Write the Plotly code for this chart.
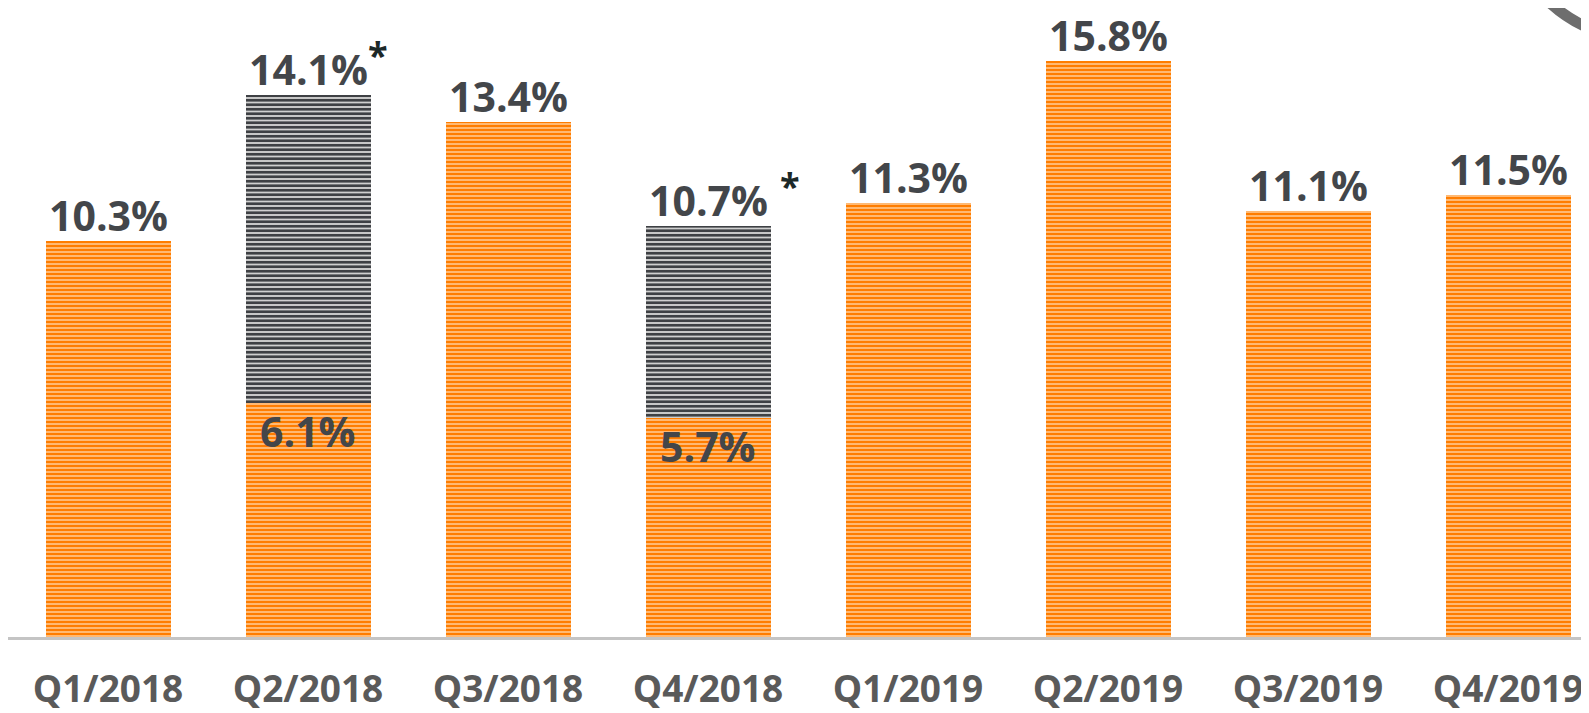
import plotly.graph_objects as go

categories = ["Q1/2018", "Q2/2018", "Q3/2018", "Q4/2018", "Q1/2019", "Q2/2019", "Q3/2019", "Q4/2019"]
# orange segment heights (as drawn)
orange_vals = [10.3, 6.1, 13.4, 5.7, 11.3, 15.0, 11.1, 11.5]
# gray segment heights stacked on top (Q2/2018 and Q4/2018 only)
gray_vals = [0, 8.0, 0, 5.0, 0, 0, 0, 0]
top_labels = ["10.3%", "14.1%", "13.4%", "10.7%", "11.3%", "15.8%", "11.1%", "11.5%"]
inner_labels = ["", "6.1%", "", "5.7%", "", "", "", ""]
asterisk = [False, True, False, True, False, False, False, False]

x = list(range(len(categories)))
totals = [o + g for o, g in zip(orange_vals, gray_vals)]

ORANGE = "#FF7D00"
ORANGE_LIGHT = "#FFC890"
GRAY = "#3e4044"
GRAY_LIGHT = "#cfcfcf"
LABEL = "#43464a"
FONT = "Open Sans"

# page has an 8px body margin; figure placed at (8, 8)
W, H = 1581, 705
PLOT_H = 632

fig = go.Figure()
fig.add_trace(go.Bar(
    x=x, y=orange_vals, width=0.625,
    marker=dict(color=ORANGE_LIGHT, line=dict(width=0),
                pattern=dict(shape="-", fgcolor=ORANGE, bgcolor=ORANGE_LIGHT,
                             size=4, solidity=0.6, fillmode="replace")),
    hoverinfo="skip",
))
fig.add_trace(go.Bar(
    x=x, y=gray_vals, width=0.625,
    marker=dict(color=GRAY_LIGHT, line=dict(width=0),
                pattern=dict(shape="-", fgcolor=GRAY, bgcolor=GRAY_LIGHT,
                             size=4.5, solidity=0.6, fillmode="replace")),
    hoverinfo="skip",
))

for xi, t, lbl, inner, o, star in zip(x, totals, top_labels, inner_labels, orange_vals, asterisk):
    fig.add_annotation(x=xi, y=t, text=lbl, showarrow=False, yanchor="bottom",
                       yshift=-4, xanchor="center",
                       font=dict(family=FONT, size=41, color=LABEL, weight="bold"))
    if inner:
        fig.add_annotation(x=xi, y=o, text=inner, showarrow=False, yanchor="top",
                           yshift=2, xanchor="center",
                           font=dict(family=FONT, size=41, color=LABEL, weight="bold"))
    if star:
        fig.add_annotation(x=xi, y=t, text="*", showarrow=False, yanchor="bottom",
                           yshift=14, xanchor="left", xshift=58 if xi == 1 else 70,
                           font=dict(family=FONT, size=36, color="#1c2828", weight="bold"))

# decorative arc in the top-right corner (pixel geometry converted to paper coords)
cx, cy, r = 1645 - 8, -100 - 8, 140
fig.add_shape(type="circle", xref="paper", yref="paper",
              x0=(cx - r) / W, x1=(cx + r) / W,
              y0=1.0 - (cy + r) / PLOT_H, y1=1.0 - (cy - r) / PLOT_H,
              line=dict(color="#6e6e6e", width=11), layer="above")

fig.update_layout(
    width=W, height=H,
    margin=dict(l=0, r=0, t=0, b=H - PLOT_H),
    barmode="stack",
    bargap=0,
    showlegend=False,
    plot_bgcolor="white", paper_bgcolor="white",
    xaxis=dict(range=[-0.5, -0.5 + W / 200], tickvals=x, ticktext=categories,
               showgrid=False, zeroline=False, showline=True,
               linecolor="#c4c4c4", linewidth=3, ticks="",
               ticklabelstandoff=18,
               tickfont=dict(family=FONT, size=37, color="#5a5a5a", weight="bold")),
    yaxis=dict(range=[0, PLOT_H / 38.6], visible=False, showgrid=False, zeroline=False),
)

fig.write_html("out.html")
